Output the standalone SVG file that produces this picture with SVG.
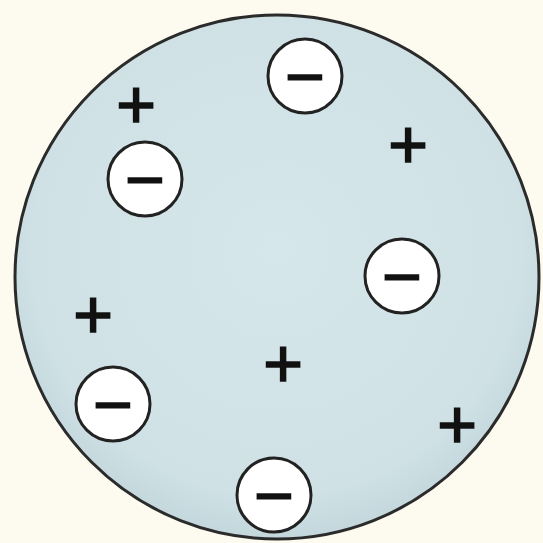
<svg xmlns="http://www.w3.org/2000/svg" width="543" height="543" viewBox="0 0 543 543">
<defs>
<radialGradient id="pud" cx="0.5" cy="0.45" r="0.55">
<stop offset="0" stop-color="#d6e7eb"/>
<stop offset="0.85" stop-color="#cfe1e5"/>
<stop offset="1" stop-color="#c3d7dc"/>
</radialGradient>
</defs>
<style>
.e{fill:#ffffff;stroke:#222;stroke-width:3}
.t{font-family:"Liberation Sans",Arial,sans-serif;font-size:68px;fill:#111;stroke:#111;stroke-width:1.6;text-anchor:middle}
</style>
<rect width="543" height="543" fill="#fdfbef"/>
<g id="atom">
<circle cx="277" cy="277" r="262" fill="url(#pud)" stroke="#2b2b2b" stroke-width="3"/>
</g>
<g id="e1"><circle class="e" cx="305" cy="76" r="37"/><text class="t" x="305" y="100">−</text></g>
<g id="e2"><circle class="e" cx="145" cy="179" r="37"/><text class="t" x="145" y="203">−</text></g>
<g id="e3"><circle class="e" cx="402" cy="276" r="37"/><text class="t" x="402" y="300">−</text></g>
<g id="e4"><circle class="e" cx="113" cy="404" r="37"/><text class="t" x="113" y="428">−</text></g>
<g id="e5"><circle class="e" cx="274" cy="495" r="37"/><text class="t" x="274" y="519">−</text></g>
<g id="p1"><text class="t" x="136" y="128">+</text></g>
<g id="p2"><text class="t" x="408" y="168">+</text></g>
<g id="p3"><text class="t" x="93" y="338">+</text></g>
<g id="p4"><text class="t" x="283" y="387">+</text></g>
<g id="p5"><text class="t" x="457" y="448">+</text></g>
</svg>
